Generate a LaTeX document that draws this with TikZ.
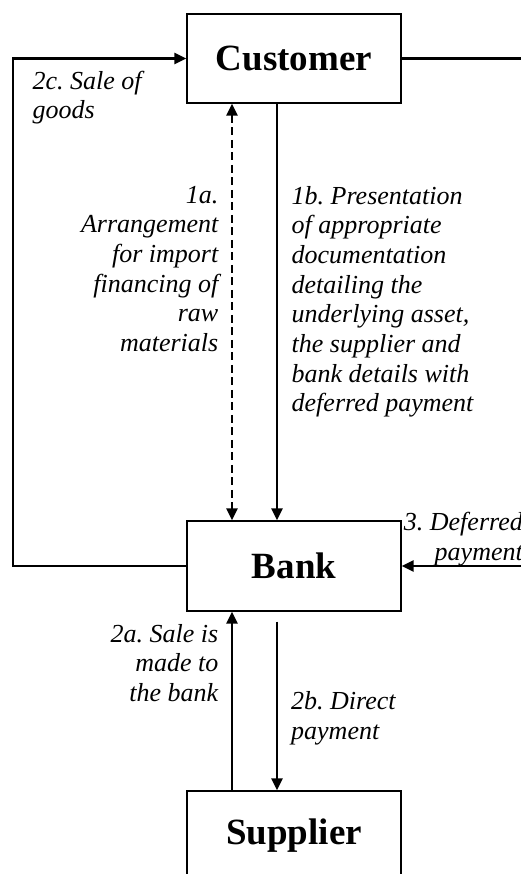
\documentclass[tikz,border=0pt]{standalone}
\usepackage{fontspec}
\setmainfont{Liberation Serif}
\frenchspacing
\usetikzlibrary{arrows.meta}
\begin{document}
\begin{tikzpicture}[x=1pt,y=-1pt,
  party/.style={draw, line width=1.3pt, minimum width=214pt, minimum height=89pt,
    inner sep=0pt, font=\fontsize{37pt}{44pt}\selectfont\bfseries},
  flow/.style={line width=2.8pt, -{Triangle[length=12pt,width=11pt]}},
  note/.style={inner sep=0pt, font=\fontsize{26pt}{29.7pt}\selectfont\itshape},
]
\useasboundingbox (0,0) rectangle (521,874);
\clip (0,0) rectangle (521,874);

% parties
\node[party] (customer) at (294,58.5) {Customer};
\node[party, minimum height=90pt] (bank) at (294,566) {Bank};
\node[party, minimum height=90pt] (supplier) at (294,836) {Supplier};

% guide positions for the vertical and outer connectors
\coordinate (xa) at (232,0);
\coordinate (xb) at (277,0);
\coordinate (farleft) at (13,0);
\coordinate (farright) at (540,0);

% 2c: goods from the bank to the customer
\draw[flow] (bank.west) -- (bank.west -| farleft) |- (customer.west);
% customer to deferred payment, returning on the right
\draw[line width=2.8pt] (customer.east) -- (customer.east -| farright);
\draw[flow] (bank.east -| farright) -- (bank.east);
% 1a / 1b
\draw[line width=2.8pt, dash pattern=on 8pt off 4.5pt,
  {Triangle[length=12pt,width=11pt]}-{Triangle[length=12pt,width=11pt]}]
  (customer.south -| xa) -- (bank.north -| xa);
\draw[flow] (customer.south -| xb) -- (bank.north -| xb);
% 2a / 2b
\draw[flow] (supplier.north -| xa) -- (bank.south -| xa);
\path (bank.south -| xb) ++(0,10) coordinate (paystart);
\draw[flow] (paystart) -- (supplier.north -| xb);

% labels
\node[note, anchor=north east, align=right] (l1a) at (218.5,185.8)
  {1a.\\Arrangement\\for import\\financing of\\raw\\materials};
\node[note, anchor=north west, align=left] (l1b) at (291.5,185.8)
  {1b. Presentation\\of appropriate\\documentation\\detailing the\\underlying asset,\\the supplier and\\bank details with\\deferred payment};
\node[note, anchor=north west, align=left] (l2c) at (32.3,70.6) {2c. Sale of\\goods};
\node[note, anchor=north east, align=right] (l2a) at (218.5,624) {2a. Sale is\\made to\\the bank};
\node[note, anchor=north west, align=left] (l2b) at (291,691.6) {2b. Direct\\payment};
\node[note, anchor=north east, align=right] (l3) at (523,512.3) {3. Deferred\\payment};
\end{tikzpicture}
\end{document}
